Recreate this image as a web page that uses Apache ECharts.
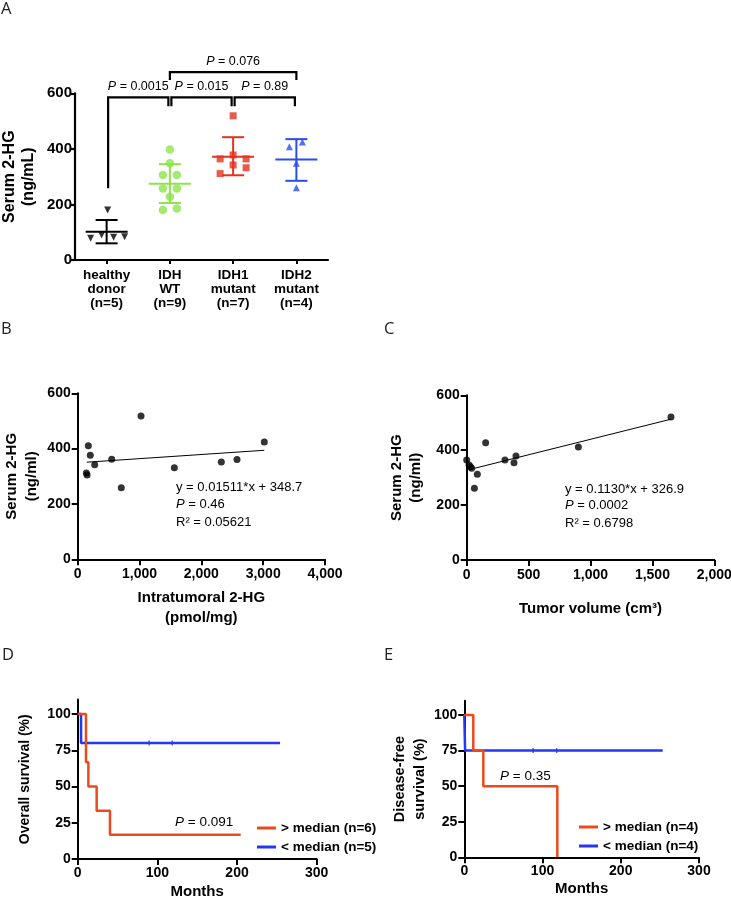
<!DOCTYPE html>
<html><head><meta charset="utf-8">
<script src="https://cdn.jsdelivr.net/npm/echarts@6/dist/echarts.min.js"></script>
<style>html,body{margin:0;padding:0;background:#fff}#c{width:731px;height:899px}</style>
</head><body><div id="c"></div>
<script>
// ---------- Panel A data ----------
const groupsA = ['healthy\ndonor\n(n=5)', 'IDH\nWT\n(n=9)', 'IDH1\nmutant\n(n=7)', 'IDH2\nmutant\n(n=4)'];
const healthyVals = [78, 90, 180, 82, 84];
const healthyJitter = [-16, -5, 1, 7, 18];
const wtVals = [398, 348, 306, 306, 257, 257, 228, 180, 185];
const wtJitter = [0, 0, -7, 7, -7, 7, 0, -7, 7];
const idh1Vals = [519, 364, 378, 364, 342, 332, 311];
const idh1Jitter = [0, -13, 0, 13, 0, 13, -13];
const idh2Vals = [408, 425, 348, 260];
const idh2Jitter = [-7, 6, 0, 0];
const groupMean = [102, 274, 372, 362];
const groupLow = [60, 205, 305, 285];
const groupHigh = [144, 345, 442, 435];
// brackets
const bracketFrom = [0, 1, 2, 1];
const bracketTo = [1, 2, 3, 3];
const bracketY = [585, 585, 585, 676];
const bracketLeftEnd = [258, 553, 553, 648];
const bracketRightEnd = [553, 553, 553, 648];
const bracketP = ['0.0015', '0.015', '0.89', '0.076'];

// ---------- Panel B data ----------
const intraX = [1024, 3018, 172, 204, 550, 275, 140, 152, 705, 1563, 2323, 2577];
const intraY = [518, 424, 410, 376, 362, 342, 312, 305, 259, 331, 352, 361];
const fitBX = [146, 3018];
const fitBY = [351, 394];

// ---------- Panel C data ----------
const volX = [1650, 902, 153, 0, 19, 30, 40, 86, 62, 309, 382, 398];
const volY = [521, 412, 427, 364, 346, 340, 334, 312, 261, 364, 354, 379];
const fitCX = [62, 1650];
const fitCY = [334, 513];

// ---------- Panel D data ----------
const osHighMonths = [0, 10.4, 13.4, 23.8, 40.5, 204.6];
const osHighSurv = [100, 66.7, 50, 33.3, 16.7, 16.7];
const osLowMonths = [0, 4.2, 254];
const osLowSurv = [100, 80, 80];
const osLowCensor = [89.7, 118.6];

// ---------- Panel E data ----------
const dfsHighMonths = [0, 11.5, 24.3, 118.9];
const dfsHighSurv = [100, 75, 50, 0];
const dfsLowMonths = [0, 1, 253.6];
const dfsLowSurv = [100, 75, 75];
const dfsLowCensor = [88, 118];

const FONT = '"Liberation Sans", Arial, Helvetica, sans-serif';
const LETTER_FONT = '"Open Sans", "Noto Sans", sans-serif';
const groupColors = ['#000000', '#8ee34d', '#e3321f', '#2a4cf0'];
const KM_RED = '#ec4a1c';
const KM_BLUE = '#2338f2';

function zip(a, b) { return a.map((v, i) => [v, b[i]]); }
function commas(v) { return String(v).replace(/\B(?=(\d{3})+(?!\d))/g, ','); }

function valAxis(gi, o, fs) {
  return Object.assign({
    type: 'value', gridIndex: gi,
    axisLine: { show: true, onZero: false, lineStyle: { color: '#000', width: 2 } },
    axisTick: { show: true, length: 6, lineStyle: { color: '#000', width: 2 } },
    axisLabel: { color: '#000', fontWeight: 'bold', fontSize: fs, fontFamily: FONT, margin: 7 },
    splitLine: { show: false },
    nameLocation: 'middle',
    nameTextStyle: { color: '#000', fontWeight: 'bold', fontSize: 15, fontFamily: FONT, lineHeight: 20 }
  }, o);
}

function jitterData(vals, jit, idx) {
  return vals.map((v, i) => ({ value: [idx, v], symbolOffset: [jit[i], 0] }));
}

function letter(t, x, y) {
  return { type: 'text', x: x, y: y, style: { text: t, fontSize: 16.5, fontFamily: LETTER_FONT, fill: '#222' } };
}
function pText(x, y, rest, fs) {
  return { type: 'text', x: x, y: y, style: { text: '{i|P} = ' + rest, fontSize: fs, fontFamily: FONT, fill: '#000', verticalAlign: 'middle',
    rich: { i: { fontStyle: 'italic', fontSize: fs, fontFamily: FONT, fill: '#000' } } } };
}
function plainText(x, y, t, fs) {
  return { type: 'text', x: x, y: y, style: { text: t, fontSize: fs, fontFamily: FONT, fill: '#000', verticalAlign: 'middle' } };
}

const option = {
  backgroundColor: '#fff',
  animation: false,
  grid: [
    { left: 75, top: 93.3, width: 253, height: 166.7, outerBoundsMode: 'none' },
    { left: 77.7, top: 393.3, width: 247.3, height: 166, outerBoundsMode: 'none' },
    { left: 466.7, top: 395.3, width: 247.6, height: 164.7, outerBoundsMode: 'none' },
    { left: 77.7, top: 699.5, width: 239, height: 159.5, outerBoundsMode: 'none' },
    { left: 464.3, top: 700.8, width: 234.7, height: 156.5, outerBoundsMode: 'none' }
  ],
  xAxis: [
    {
      type: 'category', gridIndex: 0, data: groupsA, boundaryGap: true,
      axisLine: { lineStyle: { color: '#000', width: 2.2 } },
      axisTick: { show: true, alignWithLabel: true, length: 4, lineStyle: { color: '#000', width: 2 } },
      axisLabel: { color: '#000', fontWeight: 'bold', fontSize: 13.5, lineHeight: 14.3, fontFamily: FONT, margin: 8, interval: 0 },
      splitLine: { show: false }
    },
    valAxis(1, { min: 0, max: 4000, interval: 1000, name: 'Intratumoral 2-HG\n(pmol/mg)', nameGap: 29,
      axisLabel: { color: '#000', fontWeight: 'bold', fontSize: 14, fontFamily: FONT, margin: 8, formatter: commas } }, 14),
    valAxis(2, { min: 0, max: 2000, interval: 500, name: 'Tumor volume (cm³)', nameGap: 39,
      axisLabel: { color: '#000', fontWeight: 'bold', fontSize: 14, fontFamily: FONT, margin: 8, formatter: commas } }, 14),
    valAxis(3, { min: 0, max: 300, interval: 100, name: 'Months', nameGap: 23 }, 14),
    valAxis(4, { min: 0, max: 300, interval: 100, name: 'Months', nameGap: 21 }, 14)
  ],
  yAxis: [
    valAxis(0, { min: 0, max: 600, interval: 200, name: 'Serum 2-HG\n(ng/mL)', nameGap: 37,
      axisTick: { show: true, length: 4, lineStyle: { color: '#000', width: 2.2 } },
      axisLine: { show: true, lineStyle: { color: '#000', width: 2.2 } },
      axisLabel: { color: '#000', fontWeight: 'bold', fontSize: 15, fontFamily: FONT, margin: 3 },
      nameTextStyle: { color: '#000', fontWeight: 'bold', fontSize: 16, fontFamily: FONT, lineHeight: 19 } }, 15),
    valAxis(1, { min: 0, max: 600, interval: 200, name: 'Serum 2-HG\n(ng/ml)', nameGap: 36 }, 14),
    valAxis(2, { min: 0, max: 600, interval: 200, name: 'Serum 2-HG\n(ng/ml)', nameGap: 41,
      nameTextStyle: { color: '#000', fontWeight: 'bold', fontSize: 15, fontFamily: FONT, lineHeight: 19 } }, 14),
    valAxis(3, { min: 0, max: 110, interval: 25, name: 'Overall survival (%)', nameGap: 46,
      axisLabel: { color: '#000', fontWeight: 'bold', fontSize: 14, fontFamily: FONT, margin: 7, customValues: [0, 25, 50, 75, 100] },
      axisTick: { show: true, length: 6, lineStyle: { color: '#000', width: 2 }, customValues: [0, 25, 50, 75, 100] },
      nameTextStyle: { color: '#000', fontWeight: 'bold', fontSize: 14, fontFamily: FONT } }, 14),
    valAxis(4, { min: 0, max: 110, interval: 25, name: 'Disease-free\nsurvival (%)', nameGap: 29,
      axisLabel: { color: '#000', fontWeight: 'bold', fontSize: 14, fontFamily: FONT, margin: 7, customValues: [0, 25, 50, 75, 100] },
      axisTick: { show: true, length: 6, lineStyle: { color: '#000', width: 2 }, customValues: [0, 25, 50, 75, 100] },
      nameTextStyle: { color: '#000', fontWeight: 'bold', fontSize: 14.5, fontFamily: FONT, lineHeight: 20 } }, 14)
  ],
  legend: [
    { data: ['> median (n=6)', '< median (n=5)'], orient: 'vertical', left: 252, top: 815,
      icon: 'rect', itemWidth: 19, itemHeight: 3, itemGap: 3,
      textStyle: { color: '#000', fontWeight: 'bold', fontSize: 13.5, fontFamily: FONT, lineHeight: 16 } },
    { data: ['> median (n=4)', '< median (n=4)'], orient: 'vertical', left: 574, top: 814,
      icon: 'rect', itemWidth: 19, itemHeight: 3, itemGap: 3,
      textStyle: { color: '#000', fontWeight: 'bold', fontSize: 13.5, fontFamily: FONT, lineHeight: 16 } }
  ],
  series: [
    // ---- Panel A ----
    {
      type: 'custom', xAxisIndex: 0, yAxisIndex: 0, z: 3,
      data: groupMean.map((m, i) => [i, m, groupLow[i], groupHigh[i]]),
      renderItem: function (params, api) {
        const x = api.value(0);
        const pm = api.coord([x, api.value(1)]);
        const plo = api.coord([x, api.value(2)]);
        const phi = api.coord([x, api.value(3)]);
        const c = groupColors[params.dataIndex];
        const st = { stroke: c, lineWidth: 2 };
        return { type: 'group', children: [
          { type: 'line', shape: { x1: pm[0] - 21, y1: pm[1], x2: pm[0] + 21, y2: pm[1] }, style: st },
          { type: 'line', shape: { x1: pm[0], y1: plo[1], x2: pm[0], y2: phi[1] }, style: st },
          { type: 'line', shape: { x1: pm[0] - 11, y1: plo[1], x2: pm[0] + 11, y2: plo[1] }, style: st },
          { type: 'line', shape: { x1: pm[0] - 11, y1: phi[1], x2: pm[0] + 11, y2: phi[1] }, style: st }
        ] };
      }
    },
    { type: 'scatter', xAxisIndex: 0, yAxisIndex: 0, symbol: 'triangle', symbolRotate: 180, symbolSize: 7,
      itemStyle: { color: groupColors[0] }, data: jitterData(healthyVals, healthyJitter, 0) },
    { type: 'scatter', xAxisIndex: 0, yAxisIndex: 0, symbol: 'circle', symbolSize: 8.5,
      itemStyle: { color: groupColors[1] }, data: jitterData(wtVals, wtJitter, 1) },
    { type: 'scatter', xAxisIndex: 0, yAxisIndex: 0, symbol: 'rect', symbolSize: 7,
      itemStyle: { color: groupColors[2] }, data: jitterData(idh1Vals, idh1Jitter, 2) },
    { type: 'scatter', xAxisIndex: 0, yAxisIndex: 0, symbol: 'triangle', symbolSize: 7,
      itemStyle: { color: groupColors[3] }, data: jitterData(idh2Vals, idh2Jitter, 3) },
    {
      type: 'custom', xAxisIndex: 0, yAxisIndex: 0, z: 4,
      data: bracketP.map((p, i) => [bracketFrom[i], bracketY[i]]),
      renderItem: function (params, api) {
        const i = params.dataIndex;
        const pL = api.coord([bracketFrom[i], bracketY[i]]);
        const pR = api.coord([bracketTo[i], bracketY[i]]);
        const pLb = api.coord([bracketFrom[i], bracketLeftEnd[i]]);
        const pRb = api.coord([bracketTo[i], bracketRightEnd[i]]);
        const d = i < 3 ? 1.5 : 0;
        return { type: 'group', children: [
          { type: 'polyline', shape: { points: [[pLb[0] + d, pLb[1]], [pL[0] + d, pL[1]], [pR[0] - d, pR[1]], [pRb[0] - d, pRb[1]]] },
            style: { stroke: '#000', lineWidth: 2.2, fill: null } },
          { type: 'text', x: (pL[0] + pR[0]) / 2, y: pL[1] - 4,
            style: { text: '{i|P} = ' + bracketP[i], align: 'center', verticalAlign: 'bottom',
              fontSize: 12.5, fontFamily: FONT, fill: '#000',
              rich: { i: { fontStyle: 'italic', fontSize: 12.5, fontFamily: FONT, fill: '#000' } } } }
        ] };
      }
    },
    // ---- Panel B ----
    { type: 'line', xAxisIndex: 1, yAxisIndex: 1, data: zip(fitBX, fitBY), showSymbol: false,
      lineStyle: { color: '#000', width: 1 }, z: 2 },
    { type: 'scatter', xAxisIndex: 1, yAxisIndex: 1, symbolSize: 7, itemStyle: { color: '#000' },
      data: zip(intraX, intraY), z: 3 },
    // ---- Panel C ----
    { type: 'line', xAxisIndex: 2, yAxisIndex: 2, data: zip(fitCX, fitCY), showSymbol: false,
      lineStyle: { color: '#000', width: 1 }, z: 2 },
    { type: 'scatter', xAxisIndex: 2, yAxisIndex: 2, symbolSize: 7, itemStyle: { color: '#000' },
      data: zip(volX, volY), z: 3 },
    // ---- Panel D ----
    { name: '< median (n=5)', type: 'line', step: 'end', xAxisIndex: 3, yAxisIndex: 3, showSymbol: false,
      color: KM_BLUE, lineStyle: { color: KM_BLUE, width: 2.5 }, data: zip(osLowMonths, osLowSurv), z: 2 },
    { type: 'scatter', xAxisIndex: 3, yAxisIndex: 3, symbol: 'rect', symbolSize: [1.5, 5],
      itemStyle: { color: KM_BLUE }, data: osLowCensor.map(m => [m, 80]), z: 2 },
    { name: '> median (n=6)', type: 'line', step: 'end', xAxisIndex: 3, yAxisIndex: 3, showSymbol: false,
      color: KM_RED, lineStyle: { color: KM_RED, width: 2.5 }, data: zip(osHighMonths, osHighSurv), z: 3 },
    // ---- Panel E ----
    { name: '< median (n=4)', type: 'line', step: 'end', xAxisIndex: 4, yAxisIndex: 4, showSymbol: false,
      color: KM_BLUE, lineStyle: { color: KM_BLUE, width: 2.5 }, data: zip(dfsLowMonths, dfsLowSurv), z: 2 },
    { type: 'scatter', xAxisIndex: 4, yAxisIndex: 4, symbol: 'rect', symbolSize: [1.5, 5],
      itemStyle: { color: KM_BLUE }, data: dfsLowCensor.map(m => [m, 75]), z: 2 },
    { name: '> median (n=4)', type: 'line', step: 'end', xAxisIndex: 4, yAxisIndex: 4, showSymbol: false,
      color: KM_RED, lineStyle: { color: KM_RED, width: 2.5 }, data: zip(dfsHighMonths, dfsHighSurv), z: 3 }
  ],
  graphic: [
    letter('A', 1, 1), letter('B', 1, 321), letter('C', 384, 321), letter('D', 2, 647), letter('E', 384, 647),
    plainText(176, 487.7, 'y = 0.01511*x + 348.7', 13),
    pText(176, 504, '0.46', 13),
    plainText(176, 522, 'R² = 0.05621', 13),
    plainText(565, 489.3, 'y = 0.1130*x + 326.9', 13),
    pText(565, 505, '0.0002', 13),
    plainText(565, 523, 'R² = 0.6798', 13),
    pText(175, 822.7, '0.091', 13.5),
    pText(500, 776.7, '0.35', 13.5)
  ]
};

const chart = echarts.init(document.getElementById('c'), null, { renderer: 'canvas' });
chart.setOption(option);
</script>
</body></html>
